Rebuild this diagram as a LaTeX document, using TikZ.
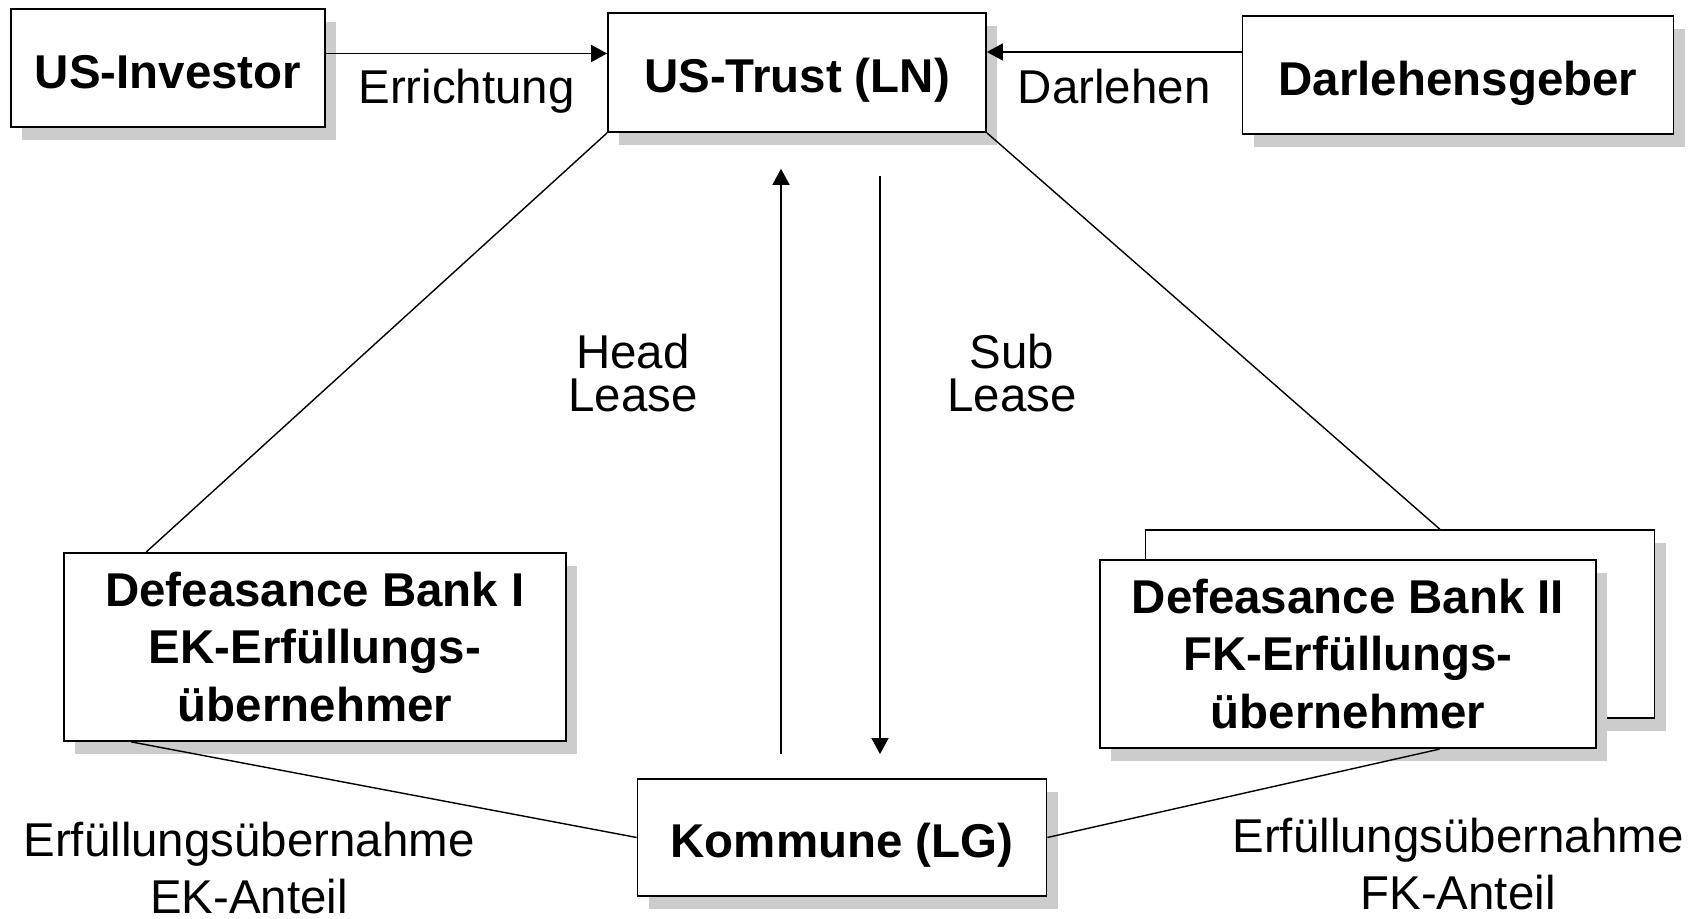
\documentclass[tikz,border=0pt]{standalone}
\usepackage{fontspec}
\setmainfont{Liberation Sans}
\usetikzlibrary{shadows,arrows.meta}
\begin{document}
\begin{tikzpicture}[
          box/.style={rectangle, draw, fill=white, line width=0.5pt, align=center,
              font=\bfseries\fontsize{13.5}{16.3}\selectfont,
              drop shadow={shadow xshift=0.11cm, shadow yshift=-0.13cm, fill=black!20, opacity=1}},
          onebox/.style={box, text height=11.5pt, text depth=0pt},
          lbl/.style={align=center, font=\fontsize{13.5}{16}\selectfont},
          arr/.style={-{Triangle[length=1.6mm, width=1.7mm]}, line width=0.5pt},
          link/.style={line width=0.4pt}
        ]
        \useasboundingbox (0,0) rectangle (16.97,-9.19);

        % top row
        \node[onebox, minimum width=3.14cm, minimum height=1.18cm] (inv) at (1.68,-0.68) {US-Investor};
        \node[onebox, minimum width=3.78cm, minimum height=1.19cm] (trust) at (7.97,-0.725) {US-Trust (LN)};
        \node[onebox, minimum width=4.31cm, minimum height=1.18cm] (geber) at (14.58,-0.75) {Darlehensgeber};

        % banks and Kommune
        \node[box, minimum width=5.02cm, minimum height=1.88cm] (db1) at (3.15,-6.47)
            {Defeasance Bank I\\EK-Erfüllungs-\\übernehmer};
        \node[box, minimum width=5.09cm, minimum height=1.875cm] (db2b) at (14.0,-6.24) {};
        \node[box, minimum width=4.96cm, minimum height=1.885cm] (db2) at (13.48,-6.54)
            {Defeasance Bank II\\FK-Erfüllungs-\\übernehmer};
        \node[onebox, minimum width=4.09cm, minimum height=1.17cm] (komm) at (8.42,-8.375) {Kommune (LG)};

        % arrows at the top
        \coordinate (e1) at ([yshift=0.145cm]inv.east);
        \draw[arr] (e1) -- (e1 -| trust.west) node[lbl, midway, below=0.03cm] {Errichtung};
        \coordinate (e2) at ([yshift=0.23cm]geber.west);
        \draw[arr] (e2) -- (e2 -| trust.east) node[lbl, midway, below=0.05cm] {Darlehen};

        % leases
        \coordinate (hl) at (7.81,0);
        \coordinate (sl) at (8.80,0);
        \draw[arr, shorten <=0.24cm, shorten >=0.36cm] (komm.north -| hl) -- (trust.south -| hl);
        \draw[arr, shorten <=0.43cm, shorten >=0.24cm] (trust.south -| sl) -- (komm.north -| sl);
        \node[lbl, font=\fontsize{13.5}{12.3}\selectfont] (head) at (6.33,-3.73) {Head\\Lease};
        \node[lbl, font=\fontsize{13.5}{12.3}\selectfont] (sub) at (10.12,-3.73) {Sub\\Lease};

        % links
        \draw[link] (trust.south west) -- ([xshift=0.83cm]db1.north west);
        \draw[link] (trust.south east) -- ([xshift=0.40cm]db2b.north);
        \draw[link] ([xshift=0.68cm]db1.south west) -- (komm.west);
        \draw[link] (komm.east) -- ([xshift=0.915cm]db2.south);

        \node[lbl] (ek) at (2.49,-8.68) {Erfüllungsübernahme\\EK-Anteil};
        \node[lbl] (fk) at (14.58,-8.64) {Erfüllungsübernahme\\FK-Anteil};

        \end{tikzpicture}
\end{document}
